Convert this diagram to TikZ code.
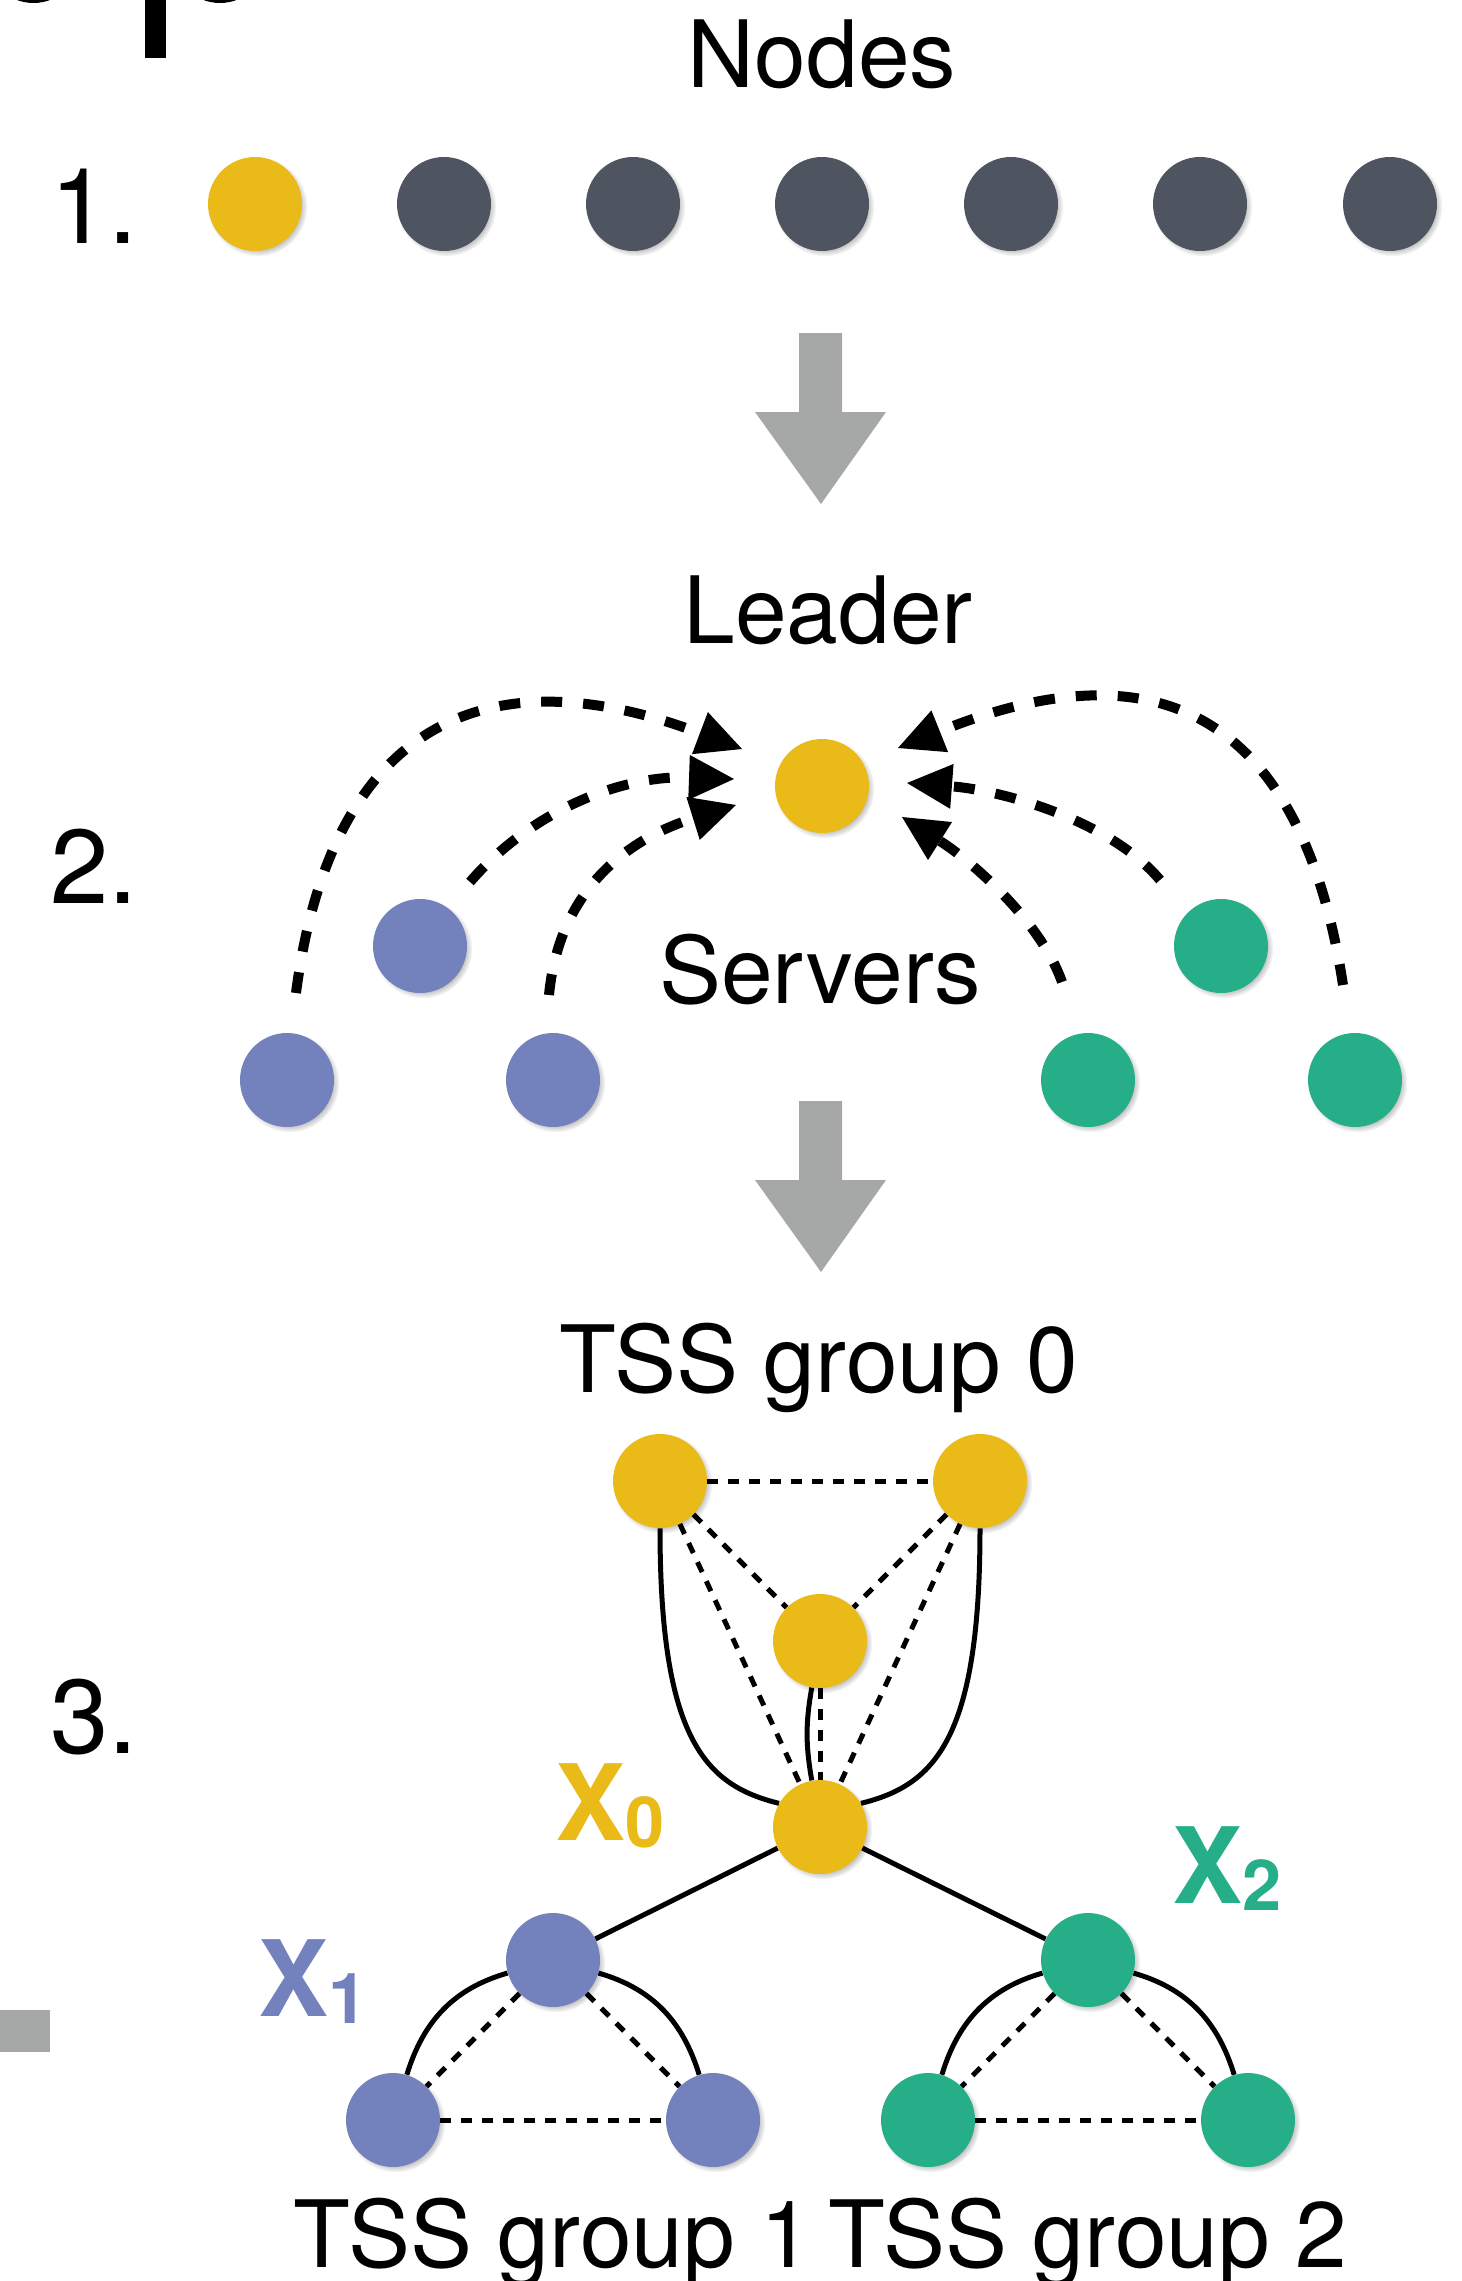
\documentclass[tikz,border=0pt]{standalone}
\usepackage{fontspec}
\setmainfont{TeX Gyre Heros}
\usetikzlibrary{arrows.meta,shadows}

\definecolor{leadYellow}{HTML}{E9BA18}
\definecolor{idleSlate}{HTML}{4F5560}
\definecolor{grpBlue}{HTML}{7381BD}
\definecolor{grpGreen}{HTML}{25AE88}
\definecolor{flowGray}{HTML}{A5A8A7}

\tikzset{
  dot/.style={circle, inner sep=0pt, minimum size=1.88cm, draw=none,
    circular drop shadow={shadow xshift=1.4pt, shadow yshift=-1.4pt,
      shadow scale=1.06, opacity=0.5}},
  idle/.style={dot, fill=idleSlate},
  lead/.style={dot, fill=leadYellow},
  grpA/.style={dot, fill=grpBlue},
  grpB/.style={dot, fill=grpGreen},
  caption/.style={inner sep=0pt, anchor=base, font=\fontsize{52.9}{60}\selectfont},
  stepnum/.style={inner sep=0pt, anchor=base west, font=\fontsize{59.8}{66}\selectfont},
  xmark/.style={inner sep=0pt, anchor=base west},
  vote/.style={line width=0.2cm, dash pattern=on 0.42cm off 0.42cm,
    -{Triangle[length=0.9cm,width=0.9cm,line width=0pt]}},
  tie/.style={line width=0.1cm},
  peer/.style={line width=0.1cm, dash pattern=on 0.22cm off 0.2cm},
  flow/.style={fill=flowGray, draw=none},
}

% group label: bold X with a lowered index
\newcommand{\grouplabel}[1]{{\bfseries\fontsize{60}{60}\selectfont X}\raisebox{-4.5pt}{\bfseries\fontsize{40}{40}\selectfont #1}}

\begin{document}
\begin{tikzpicture}[x=0.02cm, y=0.02cm]
\useasboundingbox (0,0) rectangle (1461,-2281);

% remains of the heading above
\begin{scope}
  \clip (0,0) rectangle (1461,-2281);
  \fill (145,0) rectangle (166,-58);
  \fill (33.5,44) circle (47);
  \fill (220,44) circle (47);
\end{scope}

% ---------- step 1: all nodes ----------
\node[caption] (nodesT) at (822,-88) {Nodes};
\node[stepnum] (n1) at (50,-243) {1.};
\node[lead] (a1) at (255,-204) {};
\foreach \i/\x in {2/444,3/633,4/822,5/1011,6/1200,7/1390}
  \node[idle] (a\i) at (\x,-204) {};

\fill[flow] (799,-333) -- (842,-333) -- (842,-412) -- (886,-412) -- (821,-504)
  -- (755,-412) -- (799,-412) -- cycle;

% ---------- step 2: leader election ----------
\node[caption] (leaderT) at (828,-643) {Leader};
\node[caption] (serversT) at (820,-1003) {Servers};
\node[stepnum] (n2) at (50,-903) {2.};

\node[lead] (leader) at (822,-786) {};
\node[grpA] (s1) at (287,-1080) {};
\node[grpA] (s2) at (420,-946) {};
\node[grpA] (s3) at (553,-1080) {};
\node[grpB] (s4) at (1088,-1080) {};
\node[grpB] (s5) at (1221,-946) {};
\node[grpB] (s6) at (1355,-1080) {};

\coordinate (v1s) at (296,-993);  \coordinate (v1e) at (742,-749);
\coordinate (v2s) at (470,-882);  \coordinate (v2e) at (734,-779);
\coordinate (v3s) at (549,-995);  \coordinate (v3e) at (736,-805);
\coordinate (v4s) at (1343,-985); \coordinate (v4e) at (898,-748);
\coordinate (v5s) at (1160,-880); \coordinate (v5e) at (907,-783);
\coordinate (v6s) at (1062,-982); \coordinate (v6e) at (902,-817);

\draw[vote] (v1s) .. controls (330,-730) and (480,-650) .. (v1e);
\draw[vote] (v2s) .. controls (530,-812) and (620,-775) .. (v2e);
\draw[vote] (v3s) .. controls (560,-880) and (640,-835) .. (v3e);
\draw[vote] (v4s) .. controls (1290,-640) and (1080,-675) .. (v4e);
\draw[vote] (v5s) .. controls (1110,-820) and (1000,-790) .. (v5e);
\draw[vote] (v6s) .. controls (1040,-920) and (970,-860) .. (v6e);

\fill[flow] (799,-1101) -- (842,-1101) -- (842,-1180) -- (886,-1180) -- (821,-1272)
  -- (755,-1180) -- (799,-1180) -- cycle;

% ---------- step 3: TSS groups ----------
\node[caption] (g0T) at (819,-1392) {TSS group 0};
\node[stepnum] (n3) at (50,-1753) {3.};

\node[lead] (t1) at (660,-1481) {};
\node[lead] (t2) at (980,-1481) {};
\node[lead] (t3) at (820,-1641) {};
\node[lead] (x0) at (820,-1827) {};

\node[grpA] (b0) at (553,-1960) {};
\node[grpA] (b1) at (393,-2120) {};
\node[grpA] (b2) at (713,-2120) {};
\node[grpB] (c0) at (1088,-1960) {};
\node[grpB] (c1) at (928,-2120) {};
\node[grpB] (c2) at (1248,-2120) {};

% group 0 links
\draw[peer] (t1) -- (t2);
\draw[peer] (t1) -- (t3);
\draw[peer] (t2) -- (t3);
\draw[peer] (t1) -- (x0);
\draw[peer] (t2) -- (x0);
\draw[peer] (t3) -- (x0);
\draw[tie] (t1.south) .. controls +(0,-212) and +(-73,18) .. (x0.150);
\draw[tie] (t2.south) .. controls +(0,-212) and +(73,18) .. (x0.30);
\draw[tie] (t3) to[out=-100,in=100] (x0);

% tree links
\draw[tie] (x0) -- (b0);
\draw[tie] (x0) -- (c0);

% group 1 links
\draw[peer] (b0) -- (b1);
\draw[peer] (b0) -- (b2);
\draw[peer] (b1) -- (b2);
\draw[tie] (b0) to[out=196,in=73] (b1);
\draw[tie] (b0) to[out=-16,in=107] (b2);

% group 2 links
\draw[peer] (c0) -- (c1);
\draw[peer] (c0) -- (c2);
\draw[peer] (c1) -- (c2);
\draw[tie] (c0) to[out=196,in=73] (c1);
\draw[tie] (c0) to[out=-16,in=107] (c2);

\node[xmark, text=leadYellow] (x0T) at (555,-1840) {\grouplabel{0}};
\node[xmark, text=grpBlue] (x1T) at (258,-2016) {\grouplabel{1}};
\node[xmark, text=grpGreen] (x2T) at (1172,-1903) {\grouplabel{2}};

\node[caption] (g1T) at (553,-2267) {TSS group 1};
\node[caption] (g2T) at (1088,-2267) {TSS group 2};

% edge of a neighbouring shape
\fill[flow] (0,-2010) rectangle (50,-2052);
\end{tikzpicture}
\end{document}
